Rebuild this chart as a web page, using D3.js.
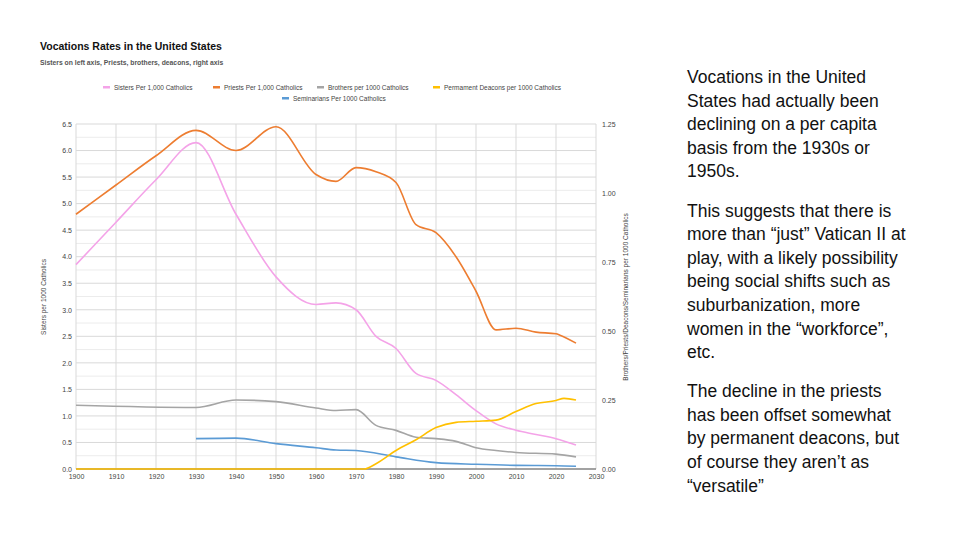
<!DOCTYPE html>
<html><head><meta charset="utf-8">
<script src="https://cdn.jsdelivr.net/npm/d3@7"></script>
<style>body{margin:0;background:#fff}svg{font-family:"Liberation Sans",Arial,sans-serif}</style>
</head><body><svg id="c" width="960" height="540"></svg>
<script>
const sistersYears=[1900,1910,1920,1930,1940,1950,1960,1965,1970,1975,1980,1985,1990,1995,2000,2005,2010,2015,2020,2025];
const sisters=[3.85,4.65,5.45,6.15,4.8,3.62,3.1,3.13,3.0,2.5,2.27,1.8,1.67,1.4,1.1,0.85,0.73,0.65,0.57,0.45];
const priestsYears=[1900,1910,1920,1930,1940,1950,1960,1965,1970,1975,1980,1985,1990,1995,2000,2005,2010,2015,2020,2021,2025];
const priests=[0.923,1.029,1.135,1.227,1.154,1.240,1.067,1.042,1.092,1.077,1.038,0.885,0.856,0.769,0.644,0.504,0.51,0.496,0.49,0.485,0.456];
const brothersYears=[1900,1930,1940,1950,1960,1965,1970,1975,1980,1985,1990,1995,2000,2005,2010,2020,2025];
const brothers=[0.231,0.223,0.25,0.244,0.221,0.212,0.215,0.158,0.14,0.115,0.11,0.1,0.077,0.067,0.06,0.054,0.044];
const deaconsYears=[1900,1970,1972,1975,1980,1985,1990,1995,2000,2005,2010,2015,2020,2022,2025];
const deacons=[0,0,0,0.019,0.067,0.106,0.15,0.169,0.173,0.177,0.208,0.237,0.248,0.256,0.25];
const seminariansYears=[1930,1940,1950,1960,1965,1970,1980,1990,2000,2010,2020,2025];
const seminarians=[0.110,0.112,0.092,0.077,0.069,0.067,0.044,0.023,0.017,0.013,0.012,0.010];
const xTicks=d3.range(1900,2031,10);
const leftTicks=d3.range(0,6.51,0.5);
const rightTicks=[0,0.25,0.5,0.75,1.0,1.25];
const notes=[["Vocations in the United","States had actually been","declining on a per capita","basis from the 1930s or","1950s."],
["This suggests that there is","more than “just” Vatican II at","play, with a likely possibility","being social shifts such as","suburbanization, more","women in the “workforce”,","etc."],
["The decline in the priests","has been offset somewhat","by permanent deacons, but","of course they aren’t as","“versatile”"]];

const svg=d3.select("#c");
const L=76,R=596,T=124,B=469;
const x=d3.scaleLinear().domain([1900,2030]).range([L,R]);
const yl=d3.scaleLinear().domain([0,6.5]).range([B,T]);
const yr=d3.scaleLinear().domain([0,1.25]).range([B,T]);
const g=svg.append("g");
d3.range(0,6.51,0.25).forEach(v=>g.append("line").attr("x1",L).attr("x2",R).attr("y1",yl(v)).attr("y2",yl(v)).attr("stroke",v%0.5===0?"#d9d9d9":"#ececec").attr("stroke-width",1));
xTicks.forEach(v=>g.append("line").attr("x1",x(v)).attr("x2",x(v)).attr("y1",T).attr("y2",B).attr("stroke","#d9d9d9"));
g.append("line").attr("x1",L).attr("x2",R).attr("y1",B).attr("y2",B).attr("stroke","#595959");
const ax=svg.append("g").attr("transform",`translate(0,${B})`).call(d3.axisBottom(x).tickValues(xTicks).tickFormat(d3.format("d")).tickSize(0).tickPadding(5));
const al=svg.append("g").attr("transform",`translate(${L},0)`).call(d3.axisLeft(yl).tickValues(leftTicks).tickFormat(d3.format(".1f")).tickSize(0).tickPadding(4));
const ar=svg.append("g").attr("transform",`translate(${R},0)`).call(d3.axisRight(yr).tickValues(rightTicks).tickFormat(d3.format(".2f")).tickSize(0).tickPadding(6));
[ax,al,ar].forEach(a=>{a.select(".domain").remove();a.selectAll("text").attr("font-size",7).attr("fill","#444");});
const line=(ys,vs,s)=>d3.line().x((d,i)=>x(ys[i])).y(d=>s(d)).curve(d3.curveMonotoneX)(vs);
const series=[[sistersYears,sisters,yl,"#f4a3e8"],[brothersYears,brothers,yr,"#a5a5a5"],[seminariansYears,seminarians,yr,"#5b9bd5"],[deaconsYears,deacons,yr,"#ffc000"],[priestsYears,priests,yr,"#ed7d31"]];
series.forEach(([ys,vs,s,c])=>svg.append("path").attr("d",line(ys,vs,s)).attr("fill","none").attr("stroke",c).attr("stroke-width",1.6));
svg.append("text").attr("x",40).attr("y",50).attr("font-size",10.5).attr("font-weight","bold").attr("fill","#111").text("Vocations Rates in the United States");
svg.append("text").attr("x",40).attr("y",65).attr("font-size",6.8).attr("font-weight","bold").attr("fill","#555").text("Sisters on left axis, Priests, brothers, deacons, right axis");
const leg=[["Sisters Per 1,000 Catholics","#f4a3e8",103,88],["Priests Per 1,000 Catholics","#ed7d31",213,88],["Brothers per 1000 Catholics","#a5a5a5",317,88],["Permament Deacons per 1000 Catholics","#ffc000",433,88],["Seminarians Per 1000 Catholics","#5b9bd5",282,99]];
leg.forEach(([t,c,lx,ly])=>{svg.append("rect").attr("x",lx).attr("y",ly-2).attr("width",7).attr("height",2.5).attr("fill",c);
svg.append("text").attr("x",lx+11).attr("y",ly+1.5).attr("font-size",6.5).attr("fill","#444").text(t);});
svg.append("text").attr("transform","translate(46,297) rotate(-90)").attr("text-anchor","middle").attr("font-size",6.5).attr("fill","#444").text("Sisters per 1000 Catholics");
svg.append("text").attr("transform","translate(628,297) rotate(-90)").attr("text-anchor","middle").attr("font-size",6.5).attr("fill","#444").text("Brothers/Priests/Deacons/Seminarians per 1000 Catholics");
let yy=83;
notes.forEach((p,pi)=>{p.forEach(l=>{svg.append("text").attr("x",687).attr("y",yy).attr("font-size",17.5).attr("fill","#111").text(l);yy+=23.6;});yy+=15.5;});
</script></body></html>
